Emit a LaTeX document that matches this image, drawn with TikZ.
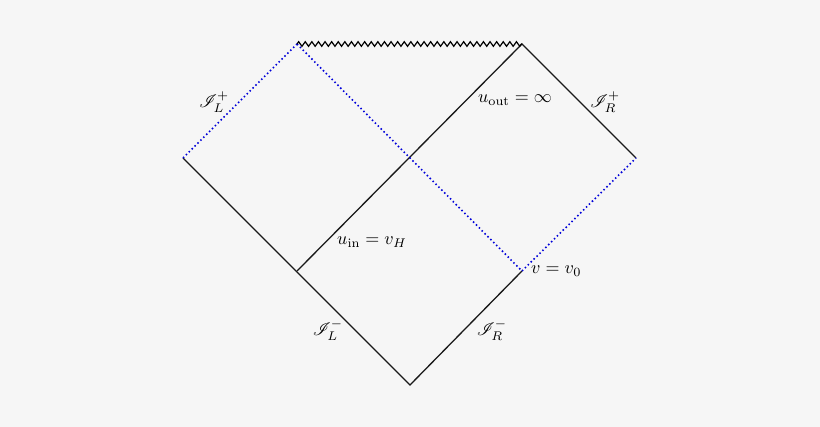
\documentclass[tikz,border=0pt]{standalone}
\usepackage{mathrsfs}
\usetikzlibrary{decorations.pathmorphing}
\definecolor{bgc}{RGB}{246,246,246}
\newcommand{\bigtxt}[1]{\scalebox{1.8}{#1}}
\begin{document}
\begin{tikzpicture}[x=1pt,y=-1pt,
  solidline/.style={line width=1.3pt,black!90},
  blueline/.style={line width=1.6pt,blue!85!black,dash pattern=on 1.5pt off 2.6pt},
  sing/.style={line width=1.2pt,black,decorate,decoration={zigzag,amplitude=2.3pt,segment length=6.6pt}},
  lab/.style={inner sep=0pt}]
\fill[bgc] (0,0) rectangle (820,427);
\useasboundingbox (0,0) rectangle (820,427);
\coordinate (TL) at (297,44);
\coordinate (TR) at (522,44);
\coordinate (L) at (183,158);
\coordinate (R) at (636,158);
\coordinate (C) at (410,158);
\coordinate (B) at (410,385);
\coordinate (LL) at (297,271);
\coordinate (LR) at (522,271);
\draw[solidline] (R) -- (TR) -- (LL);
\draw[solidline] (L) -- (B) -- (LR);
\draw[blueline] (L) -- (TL);
\draw[blueline] (TL) -- (LR);
\draw[blueline] (LR) -- (R);
\draw[sing] (TL) -- (TR);
\node[lab] (sLp) at (214,102) {\bigtxt{$\mathscr{I}_L^+$}};
\node[lab] (sRp) at (605,102) {\bigtxt{$\mathscr{I}_R^+$}};
\node[lab] (uout) at (515,100) {\bigtxt{$u_{\mathrm{out}}=\infty$}};
\node[lab] (uin) at (372,242) {\bigtxt{$u_{\mathrm{in}}=v_H$}};
\node[lab,anchor=west] (vv) at (531,271) {\bigtxt{$v=v_0$}};
\node[lab] (sLm) at (328,330) {\bigtxt{$\mathscr{I}_L^-$}};
\node[lab] (sRm) at (492,330) {\bigtxt{$\mathscr{I}_R^-$}};
\end{tikzpicture}
\end{document}
